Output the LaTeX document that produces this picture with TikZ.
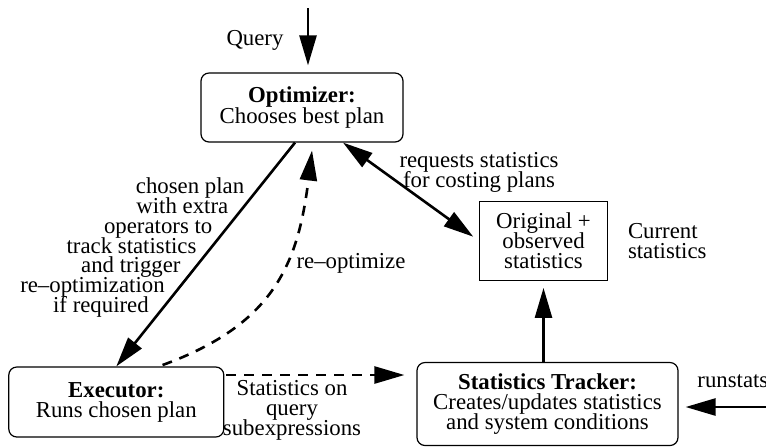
\documentclass[tikz,border=0pt]{standalone}
\usepackage{fontspec}
\setmainfont{Liberation Serif}
\usepackage{tikz}
\usetikzlibrary{arrows.meta, positioning, calc}

\begin{document}
\begin{tikzpicture}[x=0.5pt,y=-0.5pt,
	txt/.style={font={\fontsize{11.4}{#1}\selectfont\lineskiplimit=-20pt\relax}},
	txt/.default=10pt,
	blk/.style={draw,line width=0.6pt,rounded corners=4pt,align=center,inner sep=0pt,txt},
	store/.style={draw,line width=0.6pt,align=center,inner sep=0pt,txt},
	lbl/.style={align=center,inner sep=0pt,txt},
	planline/.style={lbl,anchor=east,xshift=-7pt,text height=7pt,text depth=2pt},
	arr/.style={line width=1.3pt,-{Triangle[length=15pt,width=8.5pt]},shorten >=3.5pt},
	darr/.style={arr,dash pattern=on 5pt off 4pt},
	dblarr/.style={line width=1.3pt,{Triangle[length=15pt,width=8.5pt]}-{Triangle[length=15pt,width=8.5pt]},shorten >=3.5pt}]
\useasboundingbox (0,0) rectangle (766,447);
% boxes
\node[blk,txt=10.2pt,minimum width=101pt,minimum height=34.5pt] (opt) at (302,107.5) {\textbf{Optimizer:}\\Chooses best plan};
\node[blk,minimum width=130.5pt,minimum height=41.5pt] (trk) at (547.5,404) {\textbf{Statistics Tracker:}\\Creates/updates statistics\\and system conditions};
\node[store,minimum width=64pt,minimum height=39.5pt,above=40.5pt of trk,xshift=-2pt] (orig) {Original +\\observed\\statistics};
\node[blk,minimum width=107.5pt,minimum height=35pt,left=96pt of trk,yshift=1pt] (exe) {\textbf{Executor:}\\Runs chosen plan};
% free ends
\coordinate (qtop) at (308,8);
\coordinate (rs) at (766,407);
% labels
\node[lbl] (query) at (255,40) {Query};
\foreach \p/\t [count=\i] in {0.204/chosen plan,0.293/with extra,0.382/operators to,0.471/track statistics,0.56/and trigger,0.649/re--optimization,0.738/if required}
	\path ([xshift=-3.5pt]opt.south) -- (exe.north) node[planline,pos=\p] (pl\i) {\t};
\node[lbl] (reopt) at (351,263) {re--optimize};
\node[lbl] (req) at (479,172) {requests statistics\\for costing plans};
\node[lbl,align=left,right=9.75pt of orig] (cur) {Current\\statistics};
\node[lbl] (subexp) at (292,410) {Statistics on\\query\\subexpressions};
\node[lbl,anchor=west] (runst) at (697,381) {runstats};
% connectors
\draw[arr] (qtop) -- (qtop |- opt.north);
\draw[arr,shorten >=0pt] ([xshift=-3.5pt]opt.south) -- (exe.north);
\draw[darr,shorten <=2pt,shorten >=4pt] ([xshift=21.25pt]exe.north) to[out=20,in=-97,looseness=1.15] ([xshift=5.5pt]opt.south);
\draw[dblarr] ([xshift=20.5pt]opt.south) -- (orig.west);
\draw[arr] (trk.north -| orig.south) -- (orig.south);
\draw[darr,shorten <=1pt,shorten >=6pt] ([yshift=13.5pt]exe.east) -- ([yshift=13.5pt]exe.east -| trk.west);
\draw[arr] (rs) -- (rs -| trk.east);
\end{tikzpicture}
\end{document}
